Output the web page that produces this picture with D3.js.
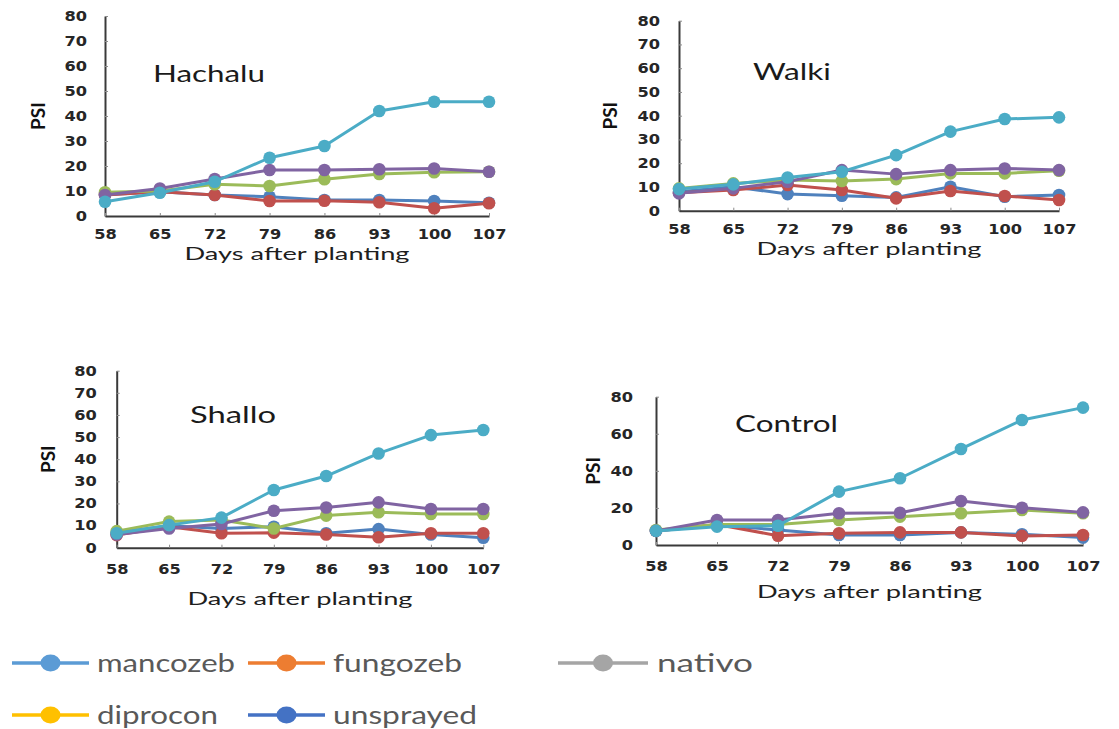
<!DOCTYPE html>
<html>
<head>
<meta charset="utf-8">
<script src="https://cdn.jsdelivr.net/npm/d3@7"></script>
<style>
  html, body { margin: 0; padding: 0; background: #fff; }
  svg { display: block; }
</style>
</head>
<body>
<svg id="chart" width="1119" height="729"></svg>
<script>
// ---------------- DATA ----------------
const days = [58, 65, 72, 79, 86, 93, 100, 107];
const seriesNames = ["mancozeb", "fungozeb", "nativo", "diprocon", "unsprayed"];
const plotColors = ["#4f81bd", "#c0504d", "#9bbb59", "#8064a2", "#4bacc6"];
const legendColors = ["#5b9bd5", "#ed7d31", "#a5a5a5", "#ffc000", "#4472c4"];
const locations = ["Hachalu", "Walki", "Shallo", "Control"];

// rows: mancozeb, fungozeb, nativo, diprocon, unsprayed
const hachalu = [
  [8.5, 9.7, 8.4, 7.7, 6.4, 6.4, 6.0, 5.3],
  [8.4, 9.7, 8.4, 6.0, 6.1, 5.5, 3.1, 5.1],
  [9.5, 10.0, 12.7, 12.0, 14.7, 16.8, 17.5, 17.7],
  [8.4, 11.0, 14.8, 18.4, 18.4, 18.7, 19.0, 17.7],
  [5.7, 9.3, 13.7, 23.3, 28.0, 42.0, 45.7, 45.7]
];
const walki = [
  [8.0, 10.1, 7.0, 6.3, 5.6, 10.1, 5.9, 6.6],
  [7.6, 8.7, 10.8, 8.7, 5.2, 8.3, 6.2, 4.5],
  [9.4, 11.5, 12.9, 12.5, 13.3, 15.7, 15.7, 16.8],
  [7.3, 9.4, 12.2, 17.1, 15.4, 17.1, 17.8, 17.1],
  [9.1, 11.1, 14.0, 16.4, 23.4, 33.3, 38.6, 39.3]
];
const shallo = [
  [6.8, 9.9, 8.7, 9.5, 6.5, 8.4, 6.0, 4.5],
  [5.7, 9.5, 6.5, 6.8, 6.0, 4.7, 6.5, 6.5],
  [7.5, 11.8, 12.5, 8.7, 14.5, 16.0, 15.2, 15.2],
  [6.0, 8.7, 10.7, 16.7, 18.2, 20.5, 17.5, 17.5],
  [6.5, 10.2, 13.6, 26.1, 32.4, 42.6, 50.9, 53.2]
];
const control = [
  [7.6, 10.8, 8.1, 5.4, 5.4, 6.8, 5.8, 4.0],
  [7.6, 11.1, 5.0, 6.3, 6.8, 6.8, 4.9, 5.4],
  [8.1, 11.1, 11.1, 13.5, 15.3, 17.1, 18.9, 17.1],
  [7.6, 13.5, 13.5, 17.1, 17.4, 23.7, 20.1, 17.6],
  [7.6, 9.9, 10.4, 28.8, 36.0, 51.8, 67.4, 74.1]
];
const yTicksFine = [0, 10, 20, 30, 40, 50, 60, 70, 80];
const yTicksCoarse = [0, 20, 40, 60, 80];
const yAxisTitle = "PSI";
const xAxisTitle = "Days after planting";

// ---------------- LAYOUT ----------------
const panels = [
  { name: locations[0], data: hachalu, ticks: yTicksFine,
    x0: 105, x1: 489, yTop: 16, yBot: 216,
    title: [153, 82, 112], xLabY: 23, yPad: 18, xTitleY: 259.5, psiX: 38 },
  { name: locations[1], data: walki, ticks: yTicksFine,
    x0: 679, x1: 1059, yTop: 20.7, yBot: 210.7,
    title: [753, 80, 78], xLabY: 23, yPad: 19, xTitleY: 254.5, psiX: 610 },
  { name: locations[2], data: shallo, ticks: yTicksFine,
    x0: 116.7, x1: 483.3, yTop: 370.7, yBot: 547.7,
    title: [190, 423, 86], xLabY: 26.5, yPad: 20, xTitleY: 605, psiX: 48 },
  { name: locations[3], data: control, ticks: yTicksCoarse,
    x0: 656, x1: 1083, yTop: 396.7, yBot: 545,
    title: [735, 432, 103], xLabY: 26, yPad: 23, xTitleY: 598, psiX: 593 }
];

const svg = d3.select("#chart");
const SX = 1.2; // horizontal stretch of the tick labels

panels.forEach(p => {
  const g = svg.append("g");
  const x = d3.scalePoint().domain(days).range([p.x0, p.x1]);
  const y = d3.scaleLinear().domain([0, 80]).range([p.yBot, p.yTop]);

  // y axis
  const ya = g.append("g").attr("transform", `translate(${p.x0},0)`)
    .call(d3.axisLeft(y).tickValues(p.ticks).tickSizeInner(-3).tickSizeOuter(0).tickPadding(p.yPad));
  ya.select(".domain").attr("stroke", "#3a3a3a").attr("stroke-width", 2);
  ya.selectAll(".tick line").attr("stroke", "#8c8c8c").attr("stroke-width", 1);
  ya.selectAll(".tick text")
    .attr("font-family", "DejaVu Sans").attr("font-weight", "bold")
    .attr("font-size", 13.5).attr("fill", "#262626")
    .attr("x", -p.yPad / SX).attr("transform", `scale(${SX},1)`);

  // x axis
  const xa = g.append("g").attr("transform", `translate(0,${p.yBot})`)
    .call(d3.axisBottom(x).tickSizeInner(-3).tickSizeOuter(0).tickPadding(0));
  xa.select(".domain").attr("stroke", "#3a3a3a").attr("stroke-width", 2);
  xa.selectAll(".tick line").attr("stroke", "#8c8c8c").attr("stroke-width", 1);
  xa.selectAll(".tick text")
    .attr("font-family", "DejaVu Sans").attr("font-weight", "bold")
    .attr("font-size", 13.5).attr("fill", "#262626")
    .attr("y", p.xLabY).attr("dy", 0)
    .attr("transform", `scale(${SX},1)`);

  // axis titles
  g.append("text")
    .attr("x", (p.x0 + p.x1) / 2).attr("y", p.xTitleY)
    .attr("text-anchor", "middle")
    .attr("font-family", "Lato").attr("font-size", 17.5).attr("fill", "#1e1e1e")
    .attr("textLength", 225).attr("lengthAdjust", "spacingAndGlyphs")
    .text(xAxisTitle);
  g.append("text")
    .attr("transform", `translate(${p.psiX + 7},${(p.yTop + p.yBot) / 2}) rotate(-90)`)
    .attr("text-anchor", "middle")
    .attr("font-family", "Lato").attr("font-weight", "bold").attr("font-size", 19)
    .attr("fill", "#111")
    .text(yAxisTitle);

  // panel title
  g.append("text")
    .attr("x", p.title[0]).attr("y", p.title[1])
    .attr("font-family", "Lato").attr("font-size", 23).attr("fill", "#1a1a1a")
    .attr("textLength", p.title[2]).attr("lengthAdjust", "spacingAndGlyphs")
    .text(p.name);

  // series
  const line = d3.line().x((d, i) => x(days[i])).y(d => y(d));
  p.data.forEach((vals, si) => {
    const sg = g.append("g");
    sg.append("path").datum(vals)
      .attr("d", line).attr("fill", "none")
      .attr("stroke", plotColors[si]).attr("stroke-width", 3)
      .attr("stroke-linejoin", "round");
    sg.selectAll("circle").data(vals).join("circle")
      .attr("cx", (d, i) => x(days[i])).attr("cy", d => y(d))
      .attr("r", 6.3).attr("fill", plotColors[si]);
  });
});

// ---------------- LEGEND ----------------
const legendPos = [
  { lx: 12, cy: 663, tx: 97, w: 138 },
  { lx: 248, cy: 663, tx: 333, w: 129 },
  { lx: 558, cy: 663, tx: 657, w: 96 },
  { lx: 12, cy: 715, tx: 97, w: 121 },
  { lx: 248, cy: 715, tx: 333, w: 144 }
];
seriesNames.forEach((name, i) => {
  const lp = legendPos[i];
  const lg = svg.append("g");
  const lw = i === 2 ? 90 : 77;
  lg.append("line")
    .attr("x1", lp.lx).attr("x2", lp.lx + lw)
    .attr("y1", lp.cy).attr("y2", lp.cy)
    .attr("stroke", legendColors[i]).attr("stroke-width", 3.5);
  lg.append("ellipse")
    .attr("cx", lp.lx + lw / 2).attr("cy", lp.cy)
    .attr("rx", 10).attr("ry", 8.5).attr("fill", legendColors[i]);
  lg.append("text")
    .attr("x", lp.tx).attr("y", lp.cy + 9)
    .attr("font-family", "Lato").attr("font-size", 25).attr("fill", "#595959")
    .attr("textLength", lp.w).attr("lengthAdjust", "spacingAndGlyphs")
    .text(name);
});
</script>
</body>
</html>
